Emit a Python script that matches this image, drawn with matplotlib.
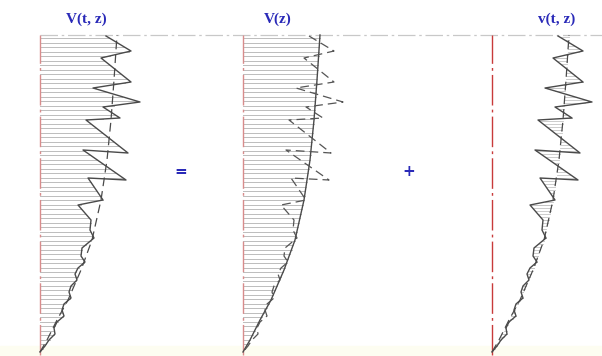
import numpy as np
import matplotlib
matplotlib.use("Agg")
import matplotlib.pyplot as plt

# ---- data (heights z above ground, speeds in drawing units) ----
mean_z = [0, 12, 32, 52, 82, 112, 152, 192, 232, 272, 317]
mean_u = [0, 7, 17, 28, 41, 52, 61, 67, 71, 74, 77]

inst_z = [316, 301, 294, 270, 264, 250, 245, 234, 232, 199, 202, 172, 174, 152, 147,
          132, 122, 114, 104, 96, 90, 84, 78, 72, 66, 60, 54, 48, 42, 36, 30, 24, 18,
          12, 6, 0]
inst_u = [66, 91, 61, 91, 53, 100, 63, 80, 46, 88, 43, 86, 48, 63, 38,
          51, 50, 54, 42, 41, 45, 38, 35, 37, 31, 29, 31, 24, 22, 24, 17, 14, 15,
          9, 5, 0]

titles = ["V(t, z)", "V(z)", "v(t, z)"]
operators = ["=", "+"]

# ---- layout ----
W, H = 602, 356
GROUND = 352
base_x = [40, 243, 492]
top_z = 317
blue = "#2a2ab8"

fig = plt.figure(figsize=(W / 100, H / 100), dpi=100)
ax = fig.add_axes([0, 0, 1, 1])
ax.set_xlim(0, W)
ax.set_ylim(GROUND - H, GROUND)
ax.axis("off")

ax.axhspan(GROUND - H, GROUND - 346, color="#fdfdf1", zorder=0)

mz = np.array(mean_z, float)
mu = np.array(mean_u, float)
iz = np.array(inst_z, float)
iu = np.array(inst_u, float)


def crossings(z, zs, us):
    out = []
    for k in range(len(zs) - 1):
        z0, z1 = zs[k], zs[k + 1]
        if (z0 - z) * (z1 - z) <= 0 and z0 != z1:
            t = (z - z0) / (z1 - z0)
            out.append(us[k] + t * (us[k + 1] - us[k]))
    return out


hatch_col = "#bcbcbc"
# top reference line
ax.plot([40, W], [top_z, top_z], color="#c8c8c8", lw=0.9, ls=(0, (14, 3, 2, 3)), zorder=1)

# panel 1 : V(t,z) hatched from axis to instantaneous profile
x0 = base_x[0]
for z in np.arange(314, 2, -4.5):
    xs = crossings(z, iz, iu)
    if xs:
        ax.plot([x0, x0 + min(xs)], [z, z], color=hatch_col, lw=0.7, zorder=2)
ax.plot(x0 + iu, iz, color="#4a4a4a", lw=1.0, zorder=4)
ax.plot(x0 + mu, mz, color="#4a4a4a", lw=0.9, ls=(0, (7, 4)), zorder=4)

# panel 2 : V(z) hatched from axis to mean profile
x0 = base_x[1]
for z in np.arange(314, 2, -4.5):
    ax.plot([x0, x0 + np.interp(z, mz, mu)], [z, z], color=hatch_col, lw=0.7, zorder=2)
ax.plot(x0 + mu, mz, color="#4a4a4a", lw=1.0, zorder=4)
ax.plot(x0 + iu, iz, color="#555555", lw=0.9, ls=(0, (7, 4)), zorder=4)

# panel 3 : v(t,z) hatched between mean and instantaneous profile
x0 = base_x[2]
for z in np.arange(315, 1, -3.0):
    m = np.interp(z, mz, mu)
    for xv in crossings(z, iz, iu):
        ax.plot([x0 + m, x0 + xv], [z, z], color="#c4c4c4", lw=0.6, zorder=2)
ax.plot(x0 + iu, iz, color="#4a4a4a", lw=1.0, zorder=4)
ax.plot(x0 + mu, mz, color="#4a4a4a", lw=0.9, ls=(0, (7, 4)), zorder=4)

# vertical axes (red dash-dot)
for i, x0 in enumerate(base_x):
    col = "#c83a3a" if i == 2 else "#d88c8c"
    ax.plot([x0, x0], [GROUND - 355, top_z], color=col, lw=1.0,
            ls=(0, (22, 3, 2, 3)), zorder=3)

# titles and operators
title_x = [86, 278, 557]
for tx, t in zip(title_x, titles):
    ax.text(tx, GROUND - 19, t, ha="center", va="center", color=blue,
            fontsize=11, fontweight="bold", family="Liberation Serif")
op_x = [181, 409]
for ox, o in zip(op_x, operators):
    ax.text(ox, GROUND - 172, o, ha="center", va="center", color=blue,
            fontsize=11, fontweight="bold", family="DejaVu Sans")

fig.savefig("out.png", dpi=100)
